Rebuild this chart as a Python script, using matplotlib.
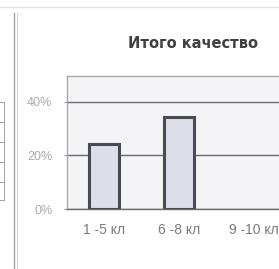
import matplotlib.pyplot as plt
import numpy as np
from matplotlib.lines import Line2D

plt.rcParams["font.family"] = ["Liberation Sans", "DejaVu Sans"]

# data
categories = ["1 -5 кл", "6 -8 кл", "9 -10 кл"]
quality = [0.243, 0.344, np.nan]
yticks = [0.0, 0.2, 0.4]
ytick_labels = ["0%", "20%", "40%"]
title = "Итого качество"

fig = plt.figure(figsize=(2.79, 2.69), dpi=100)
fig.patch.set_facecolor("white")

# plot area runs past the right edge (cropped screenshot)
ax = fig.add_axes([67 / 279, 60 / 269, 224 / 279, 133 / 269])
ax.set_facecolor("#f4f4f7")

x = np.arange(len(categories))
ax.bar(x, quality, width=0.4, color="#dedee8", edgecolor="#4a4a55", linewidth=2.2, zorder=3)

ax.set_xlim(-0.5, len(categories) - 0.5)
ax.set_ylim(0, 0.497)
ax.set_yticks(yticks)
ax.set_yticklabels(ytick_labels)
ax.yaxis.grid(True, color="#6a6a72", linewidth=1.0, zorder=1)
ax.set_xticks(x)
ax.set_xticklabels(categories)

ax.tick_params(axis="y", colors="#a8a8a8", labelsize=9, length=2, pad=8.5)
ax.tick_params(axis="x", colors="#7a7a80", labelsize=10, length=0, pad=10)
ax.tick_params(axis="y", color="#909090")

for side, sp in ax.spines.items():
    sp.set_color("#a8a8b0")
    sp.set_linewidth(1.0)
ax.spines["bottom"].set_color("#6a6a72")

fig.text(193 / 279, 1 - 44 / 269, title, ha="center", va="center",
         fontsize=10.5, fontweight="bold", color="#404044", family="DejaVu Sans")

# surrounding sheet lines
fig.add_artist(Line2D([0, 1], [1 - 7 / 269, 1 - 7 / 269], color="#e2e2e2", linewidth=1.0))
fig.add_artist(Line2D([14 / 279, 14 / 279], [0, 1 - 13 / 269], color="#a4a4aa", linewidth=1.0))
fig.add_artist(Line2D([16.5 / 279, 16.5 / 279], [0, 1 - 13 / 269], color="#d8d8dc", linewidth=0.8))
for yy in [102, 122, 142, 162, 182, 200]:
    fig.add_artist(Line2D([0, 4 / 279], [1 - yy / 269, 1 - yy / 269], color="#a0a0aa", linewidth=0.7))
fig.add_artist(Line2D([4 / 279, 4 / 279], [1 - 200 / 269, 1 - 102 / 269], color="#a0a0aa", linewidth=0.7))

fig.savefig("out.png", dpi=100)
